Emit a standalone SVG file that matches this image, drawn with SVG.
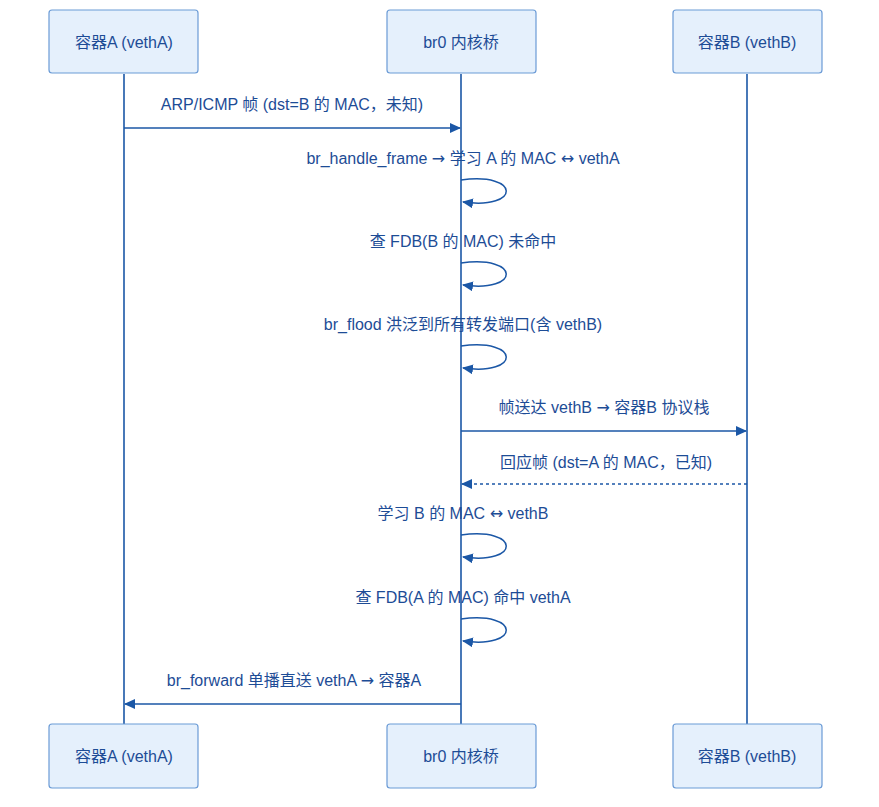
<svg xmlns="http://www.w3.org/2000/svg" width="879" height="807" viewBox="0 0 879 807">
<style>
.box{fill:#e5f0fc;stroke:#6b9bd6;stroke-width:1.2}
.t{font-family:"Liberation Sans","Noto Sans CJK SC",sans-serif;font-size:16px;fill:#1d4c96;text-anchor:middle;dominant-baseline:central}
.ar{font-family:"DejaVu Sans",sans-serif}
.life{stroke:#1b57a6;stroke-width:1.6;fill:none}
.msg{stroke:#1b57a6;stroke-width:1.5;fill:none}
.dash{stroke-dasharray:3,3}
</style>
<defs>
<marker id="ah" viewBox="0 0 11 10" refX="10" refY="5" markerWidth="11" markerHeight="10" markerUnits="userSpaceOnUse" orient="auto">
<path d="M0,0 L11,5 L0,10 z" fill="#1b57a6"/>
</marker>
</defs>
<g id="lifelines">
<line class="life" x1="124" y1="74" x2="124" y2="724"/>
<line class="life" x1="461" y1="74" x2="461" y2="724"/>
<line class="life" x1="747" y1="74" x2="747" y2="724"/>
</g>
<g id="nodeA_top"><rect class="box" x="49" y="10" width="149" height="63" rx="3"/><text class="t" x="124" y="42">容器A (vethA)</text></g>
<g id="nodeBr_top"><rect class="box" x="387" y="10" width="149" height="63" rx="3"/><text class="t" x="461" y="42">br0 内核桥</text></g>
<g id="nodeB_top"><rect class="box" x="673" y="10" width="149" height="63" rx="3"/><text class="t" x="747" y="42">容器B (vethB)</text></g>
<g id="nodeA_bot"><rect class="box" x="49" y="724" width="149" height="64" rx="3"/><text class="t" x="124" y="756">容器A (vethA)</text></g>
<g id="nodeBr_bot"><rect class="box" x="387" y="724" width="149" height="64" rx="3"/><text class="t" x="461" y="756">br0 内核桥</text></g>
<g id="nodeB_bot"><rect class="box" x="673" y="724" width="149" height="64" rx="3"/><text class="t" x="747" y="756">容器B (vethB)</text></g>
<g id="connectors">
<line class="msg" x1="124" y1="128" x2="460" y2="128" marker-end="url(#ah)"/>
<text class="t" x="292" y="104">ARP/ICMP 帧 (dst=B 的 MAC，未知)</text>
<path class="msg" d="M461,180 C521,172 521,210 463,202" marker-end="url(#ah)"/>
<text class="t" x="463" y="158">br_handle_frame <tspan class="ar">→</tspan> 学习 A 的 MAC <tspan class="ar">↔</tspan> vethA</text>
<path class="msg" d="M461,263 C521,255 521,293 463,285" marker-end="url(#ah)"/>
<text class="t" x="463" y="241">查 FDB(B 的 MAC) 未命中</text>
<path class="msg" d="M461,346 C521,338 521,376 463,368" marker-end="url(#ah)"/>
<text class="t" x="463" y="324">br_flood 洪泛到所有转发端口(含 vethB)</text>
<line class="msg" x1="461" y1="431" x2="746" y2="431" marker-end="url(#ah)"/>
<text class="t" x="604" y="407">帧送达 vethB <tspan class="ar">→</tspan> 容器B 协议栈</text>
<line class="msg dash" x1="747" y1="484" x2="462" y2="484" marker-end="url(#ah)"/>
<text class="t" x="606" y="462">回应帧 (dst=A 的 MAC，已知)</text>
<path class="msg" d="M461,535 C521,527 521,565 463,557" marker-end="url(#ah)"/>
<text class="t" x="463" y="513">学习 B 的 MAC <tspan class="ar">↔</tspan> vethB</text>
<path class="msg" d="M461,619 C521,611 521,649 463,641" marker-end="url(#ah)"/>
<text class="t" x="463" y="597">查 FDB(A 的 MAC) 命中 vethA</text>
<line class="msg" x1="461" y1="704" x2="125" y2="704" marker-end="url(#ah)"/>
<text class="t" x="294" y="680">br_forward 单播直送 vethA <tspan class="ar">→</tspan> 容器A</text>
</g>
</svg>
